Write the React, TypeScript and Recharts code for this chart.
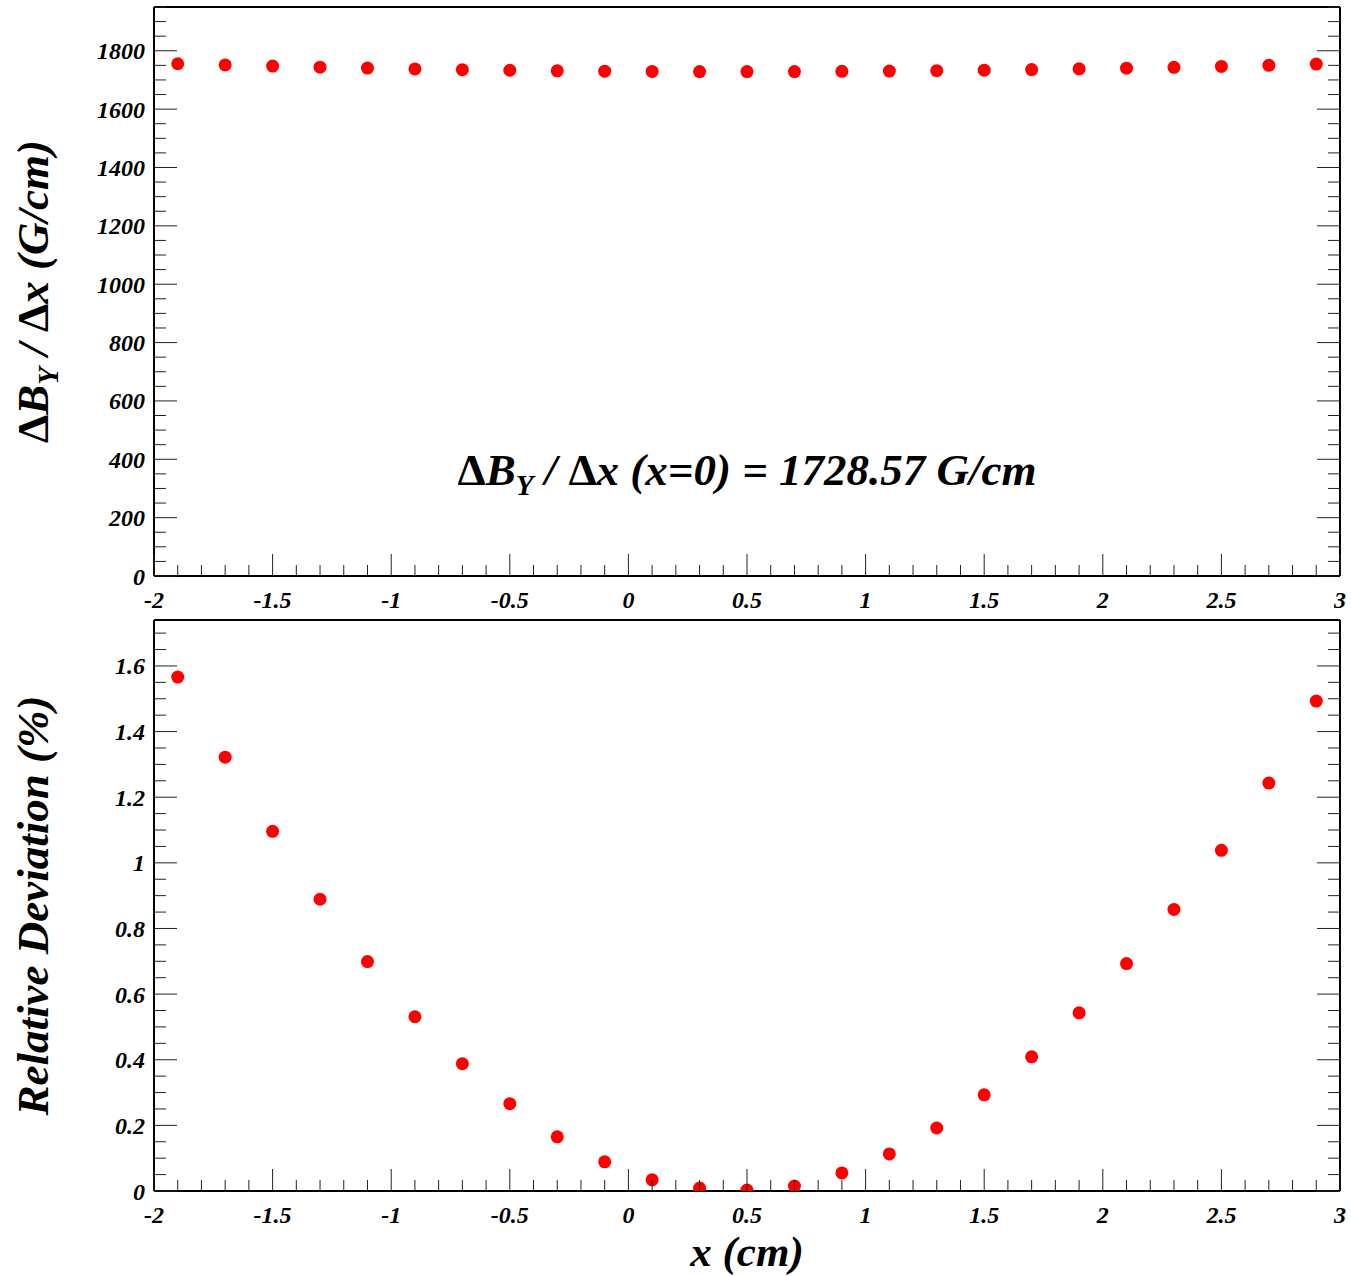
import React from "react";
import {
  Label,
  Scatter,
  ScatterChart,
  XAxis,
  YAxis,
} from "recharts";

// x positions of the probe (cm)
const X_POS = [
  -1.9, -1.7, -1.5, -1.3, -1.1, -0.9, -0.7, -0.5, -0.3, -0.1, 0.1, 0.3, 0.5,
  0.7, 0.9, 1.1, 1.3, 1.5, 1.7, 1.9, 2.1, 2.3, 2.5, 2.7, 2.9,
];

// dB_Y / dx (G/cm)
const GRADIENT = [
  1755.6, 1751.4, 1747.5, 1743.9, 1740.7, 1737.7, 1735.3, 1733.2, 1731.4,
  1730.1, 1729.2, 1728.7, 1728.6, 1728.8, 1729.5, 1730.5, 1731.9, 1733.6,
  1735.6, 1738.0, 1740.5, 1743.4, 1746.5, 1750.1, 1754.4,
];

// relative deviation (%)
const DEVIATION = [
  1.566, 1.322, 1.096, 0.889, 0.699, 0.531, 0.388, 0.266, 0.165, 0.089, 0.034,
  0.009, 0.003, 0.015, 0.055, 0.113, 0.192, 0.293, 0.409, 0.543, 0.693, 0.858,
  1.038, 1.243, 1.493,
];

const X_MAJOR = [-2, -1.5, -1, -0.5, 0, 0.5, 1, 1.5, 2, 2.5, 3];
const X_LABELS = ["-2", "-1.5", "-1", "-0.5", "0", "0.5", "1", "1.5", "2", "2.5", "3"];
const GRAD_MAJOR = [0, 200, 400, 600, 800, 1000, 1200, 1400, 1600, 1800];
const GRAD_LABELS = ["0", "200", "400", "600", "800", "1000", "1200", "1400", "1600", "1800"];
const DEV_MAJOR = [0, 0.2, 0.4, 0.6, 0.8, 1, 1.2, 1.4, 1.6];
const DEV_LABELS = ["0", "0.2", "0.4", "0.6", "0.8", "1", "1.2", "1.4", "1.6"];

const GRAD_DOMAIN: [number, number] = [0, 1950];
const DEV_DOMAIN: [number, number] = [0, 1.74];
const X_DOMAIN: [number, number] = [-2, 3];

const W = 1351;
const FONT: React.CSSProperties = {
  fontFamily: "'Liberation Serif', 'Times New Roman', serif",
  fontWeight: "bold",
  fontStyle: "italic",
};

const steps = (lo: number, hi: number, step: number) => {
  const n = Math.round((hi - lo) / step);
  const out: number[] = [];
  for (let i = 0; i <= n; i++) out.push(+(lo + i * step).toFixed(4));
  return out;
};

const X_TICKS = steps(-2, 3, 0.1);
const GRAD_TICKS = steps(0, 1950, 50);
const DEV_TICKS = steps(0, 1.7, 0.05);

const majorIdx = (v: number, majors: number[]) =>
  majors.findIndex((m) => Math.abs(m - v) < 1e-6);

const gradData = X_POS.map((x, i) => ({ x, y: GRADIENT[i] }));
const devData = X_POS.map((x, i) => ({ x, y: DEVIATION[i] }));

const TICK_COLOR = "#222";

function xTick(side: "bottom" | "top", withLabels: boolean) {
  return (p: any) => {
    const v = p.payload.value;
    const k = majorIdx(v, X_MAJOR);
    const len = k >= 0 ? 22 : 11;
    const dir = side === "bottom" ? -1 : 1;
    return (
      <g>
        <line x1={p.x} x2={p.x} y1={p.y} y2={p.y + dir * len} stroke={TICK_COLOR} strokeWidth={1} />
        {withLabels && k >= 0 && (
          <text x={p.x} y={p.y + 32} textAnchor="middle" fontSize={24} style={FONT} fill="#000">
            {X_LABELS[k]}
          </text>
        )}
      </g>
    );
  };
}

function yTick(side: "left" | "right", majors: number[], labels: string[] | null) {
  return (p: any) => {
    const v = p.payload.value;
    const k = majorIdx(v, majors);
    const len = k >= 0 ? 23 : 12;
    const dir = side === "left" ? 1 : -1;
    return (
      <g>
        <line x1={p.x} x2={p.x + dir * len} y1={p.y} y2={p.y} stroke={TICK_COLOR} strokeWidth={1} />
        {labels && k >= 0 && (
          <text x={p.x - 9} y={p.y + 8.5} textAnchor="end" fontSize={24} style={FONT} fill="#000">
            {labels[k]}
          </text>
        )}
      </g>
    );
  };
}

const Delta = () => <tspan fontStyle="normal">Δ</tspan>;

function gradTitle(props: any) {
  const vb = props.viewBox;
  const cx = vb.x + vb.width - 106;
  const cy = vb.y + vb.height / 2;
  return (
    <text transform={`rotate(-90 ${cx} ${cy})`} x={cx} y={cy} textAnchor="middle" fontSize={45} style={FONT} fill="#000">
      <Delta />B
      <tspan fontSize={29} dy={10}>Y</tspan>
      <tspan dy={-10}> / </tspan>
      <Delta />x (G/cm)
    </text>
  );
}

function devTitle(props: any) {
  const vb = props.viewBox;
  const cx = vb.x + vb.width - 106;
  const cy = vb.y + vb.height / 2;
  return (
    <text transform={`rotate(-90 ${cx} ${cy})`} x={cx} y={cy} textAnchor="middle" fontSize={45} style={FONT} fill="#000">
      Relative Deviation  (%)
    </text>
  );
}

function annotation(props: any) {
  const vb = props.viewBox;
  return (
    <text x={vb.x + vb.width / 2} y={vb.y - 91} textAnchor="middle" fontSize={45} style={FONT} fill="#000">
      <Delta />B
      <tspan fontSize={29} dy={10}>Y</tspan>
      <tspan dy={-10}> / </tspan>
      <Delta />x (x=0) = 1728.57 G/cm
    </text>
  );
}

function xTitle(props: any) {
  const vb = props.viewBox;
  return (
    <text x={vb.x + vb.width / 2} y={vb.y + 75} textAnchor="middle" fontSize={43} style={FONT} fill="#000">
      x (cm)
    </text>
  );
}

const dot = (p: any) => <circle cx={p.cx} cy={p.cy} r={6.5} fill="#ff0000" />;

const frame = { stroke: "#000", strokeWidth: 2 };

function Panel({
  data, height, margin, domain, ticks, majors, labels, yTitle, xLabel,
}: {
  data: { x: number; y: number }[];
  height: number;
  margin: { top: number; right: number; bottom: number; left: number };
  domain: [number, number];
  ticks: number[];
  majors: number[];
  labels: string[];
  yTitle: (p: any) => React.ReactElement;
  xLabel: (p: any) => React.ReactElement;
}) {
  return (
    <ScatterChart width={W} height={height} margin={margin}>
      <XAxis dataKey="x" type="number" domain={X_DOMAIN} ticks={X_TICKS} interval={0}
        height={1} tickSize={0} tickMargin={0} tickLine={false} axisLine={frame}
        tick={xTick("bottom", true)} allowDataOverflow>
        <Label content={xLabel} />
      </XAxis>
      <XAxis xAxisId="top" orientation="top" type="number" domain={X_DOMAIN} ticks={X_TICKS} interval={0}
        height={1} tickSize={0} tickMargin={0} tickLine={false} axisLine={frame}
        tick={xTick("top", false)} allowDataOverflow />
      <YAxis dataKey="y" type="number" domain={domain} ticks={ticks} interval={0}
        width={1} tickSize={0} tickMargin={0} tickLine={false} axisLine={frame}
        tick={yTick("left", majors, labels)} allowDataOverflow>
        <Label content={yTitle} />
      </YAxis>
      <YAxis yAxisId="right" orientation="right" type="number" domain={domain} ticks={ticks} interval={0}
        width={1} tickSize={0} tickMargin={0} tickLine={false} axisLine={frame}
        tick={yTick("right", majors, null)} allowDataOverflow />
      <Scatter data={data} shape={dot} isAnimationActive={false} />
    </ScatterChart>
  );
}

export default function App() {
  return (
    <div style={{ position: "absolute", left: 0, top: 0, width: W, height: 1276, background: "#fff" }}>
      <Panel data={gradData} height={615} margin={{ top: 6, right: 10, bottom: 38, left: 153 }}
        domain={GRAD_DOMAIN} ticks={GRAD_TICKS} majors={GRAD_MAJOR} labels={GRAD_LABELS}
        yTitle={gradTitle} xLabel={annotation} />
      <Panel data={devData} height={661} margin={{ top: 4, right: 10, bottom: 84, left: 153 }}
        domain={DEV_DOMAIN} ticks={DEV_TICKS} majors={DEV_MAJOR} labels={DEV_LABELS}
        yTitle={devTitle} xLabel={xTitle} />
    </div>
  );
}
